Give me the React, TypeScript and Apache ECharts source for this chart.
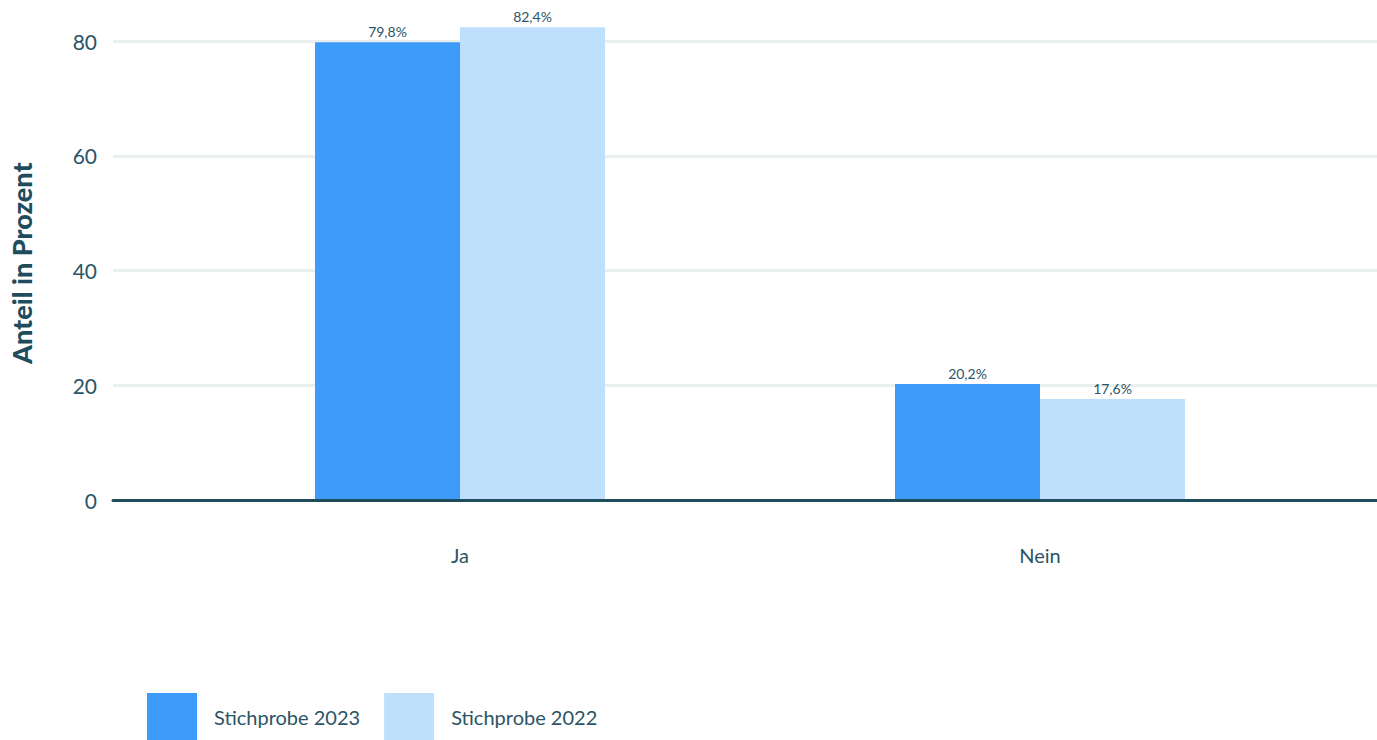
import React, { useEffect, useRef } from "react";
import * as echarts from "echarts";

const categories = ["Ja", "Nein"];
const series2023 = [79.8, 20.2];
const series2022 = [82.4, 17.6];
const seriesNames = ["Stichprobe 2023", "Stichprobe 2022"];
const yTicks = [0, 20, 40, 60, 80];

const FONT = "Lato";
const TEXT = "#2b5466";

export default function App() {
  const ref = useRef<HTMLDivElement>(null);
  useEffect(() => {
    if (!ref.current) return;
    const chart = echarts.init(ref.current, undefined, { renderer: "svg" });
    const top = 500 - 85 * (459 / 80);
    const height = 500 - top;
    const fmt = (p: any) => String(p.value).replace(".", ",") + "%";
    chart.setOption({
      animation: false,
      textStyle: { fontFamily: FONT },
      grid: [
        { left: 113, right: 0, top, height },
        { left: 170, right: 47, top, height },
      ],
      legend: {
        left: 142,
        top: 688,
        itemWidth: 50,
        itemHeight: 48,
        itemGap: 24,
        icon: "rect",
        data: seriesNames,
        textStyle: { fontFamily: FONT, fontSize: 20, color: TEXT, padding: [0, 0, 0, 12] },
      },
      xAxis: [
        {
          type: "value",
          gridIndex: 0,
          min: 0,
          max: 1,
          z: 5,
          axisLine: { show: true, onZero: false, lineStyle: { color: "#1f4d5e", width: 3 } },
          axisTick: { show: false },
          axisLabel: { show: false },
          splitLine: { show: false },
        },
        {
          type: "category",
          gridIndex: 1,
          data: categories,
          axisLine: { show: false },
          axisTick: { show: false },
          axisLabel: { margin: 45, fontSize: 20, color: TEXT, fontFamily: FONT },
          splitLine: { show: false },
        },
      ],
      yAxis: [
        {
          type: "value",
          gridIndex: 0,
          min: 0,
          max: 85,
          interval: 20,
          name: "Anteil in Prozent",
          nameLocation: "middle",
          nameRotate: 90,
          nameGap: 78,
          nameTextStyle: { fontSize: 27, fontWeight: 900, color: "#1f4d5e", fontFamily: FONT, padding: [0, 14, 0, 0] },
          axisLine: { show: false },
          axisTick: { show: false },
          axisLabel: {
            margin: 16,
            fontSize: 21,
            color: TEXT,
            fontFamily: FONT,
            showMaxLabel: false,
            formatter: (v: number) => (yTicks.includes(v) ? String(v) : ""),
          },
          splitLine: { show: true, showMaxLine: false, lineStyle: { color: "#e9efef", width: 3 } },
        },
        {
          type: "value",
          gridIndex: 1,
          min: 0,
          max: 85,
          interval: 20,
          show: false,
          splitLine: { show: false },
        },
      ],
      series: [
        {
          name: seriesNames[0],
          type: "bar",
          xAxisIndex: 1,
          yAxisIndex: 1,
          data: series2023,
          barWidth: 145,
          barGap: "0%",
          itemStyle: { color: "#3d9bfa" },
          label: { show: true, position: "top", distance: 4, fontSize: 14, color: TEXT, fontFamily: FONT, formatter: fmt },
        },
        {
          name: seriesNames[1],
          type: "bar",
          xAxisIndex: 1,
          yAxisIndex: 1,
          data: series2022,
          barWidth: 145,
          barGap: "0%",
          itemStyle: { color: "#bfe0fd" },
          label: { show: true, position: "top", distance: 4, fontSize: 14, color: TEXT, fontFamily: FONT, formatter: fmt },
        },
      ],
    });
    return () => chart.dispose();
  }, []);
  return (
    <div
      ref={ref}
      style={{ position: "fixed", left: 0, top: 0, width: 1377, height: 740, background: "#fff" }}
    />
  );
}
